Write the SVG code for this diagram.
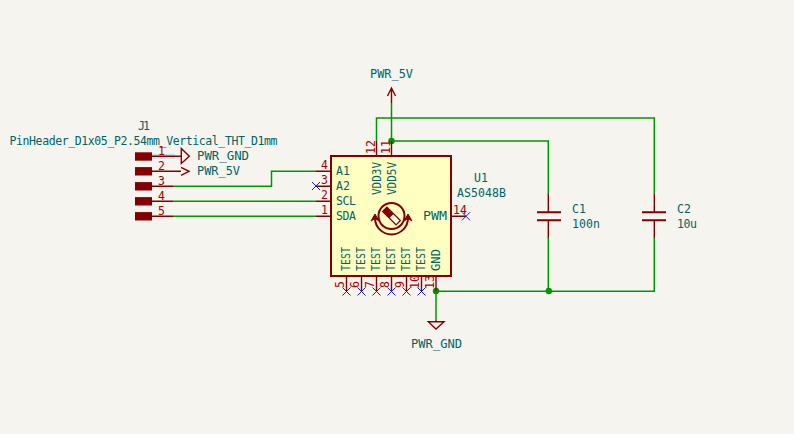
<svg xmlns="http://www.w3.org/2000/svg" width="794" height="434" viewBox="0 0 794 434">
<style>
.w{fill:none;stroke:#009600;stroke-width:1.5}
.p{fill:none;stroke:#840000;stroke-width:1.4}
.b{fill:none;stroke:#840000;stroke-width:2}
.t{font-family:"DejaVu Sans Mono","Liberation Mono",monospace;font-size:11.5px;fill:#006464}
.n{font-family:"DejaVu Sans Mono","Liberation Mono",monospace;font-size:11.5px;fill:#a90000}
.x{fill:none;stroke:#1c1cc0;stroke-width:1}
.j{fill:#009600}
</style>
<rect width="794" height="434" fill="#f5f4ef"/>
<g id="connectors">
<path class="w" d="M173 186.300H271.500V171.300H316M173 201.300H316M173 216.300H316"/>
<path class="w" d="M391.500 103V141H548.300V194M548.300 238V291.300M376.500 141V118H654.300V194M654.300 238V291.300H436V320"/>
<circle class="j" cx="391.500" cy="141" r="3.200"/>
<circle class="j" cx="548.800" cy="291" r="3.200"/>
<circle class="j" cx="436" cy="291" r="3.200"/>
</g>
<g id="J1">
<path d="M152 156.300H175" stroke="#bfe4f2" stroke-width="5" fill="none"/>
<rect x="135" y="152.300" width="17" height="8.400" fill="#840000"/>
<rect x="135" y="167.100" width="17" height="8.400" fill="#840000"/>
<rect x="135" y="182.100" width="17" height="8.400" fill="#840000"/>
<rect x="135" y="197.100" width="17" height="8.400" fill="#840000"/>
<rect x="135" y="212.100" width="17" height="8.400" fill="#840000"/>
<path class="p" d="M152 156.300H181M152 171.300H181M152 186.300H173M152 201.300H173M152 216.300H173"/>
<text class="t" x="138" y="130" textLength="12">J1</text>
<text class="t" x="9.500" y="145" textLength="268">PinHeader_D1x05_P2.54mm_Vertical_THT_D1mm</text>
<text class="n" x="158" y="155">1</text>
<text class="n" x="158" y="170">2</text>
<text class="n" x="158" y="185">3</text>
<text class="n" x="158" y="200">4</text>
<text class="n" x="158" y="215">5</text>
</g>
<g id="PWR_GND_J1">
<path class="p" d="M181.300 148.500V163.500L189.300 156.300Z"/>
<text class="t" x="197" y="160" textLength="52" lengthAdjust="spacingAndGlyphs">PWR_GND</text>
</g>
<g id="PWR_5V_J1">
<path class="p" d="M181 167.300L189 171.300L181 175.300"/>
<text class="t" x="197" y="175" textLength="43" lengthAdjust="spacingAndGlyphs">PWR_5V</text>
</g>
<g id="PWR_5V_top">
<path class="p" d="M391.500 103V88M387.500 96L391.500 88L395.500 96"/>
<text class="t" x="370" y="77.500" textLength="43" lengthAdjust="spacingAndGlyphs">PWR_5V</text>
</g>
<g id="PWR_GND_bottom">
<path class="p" d="M436 320V321.700M428.300 321.700H444L436 329Z"/>
<text class="t" x="411" y="347.500" textLength="51" lengthAdjust="spacingAndGlyphs">PWR_GND</text>
</g>
<g id="U1">
<rect x="331" y="156" width="120" height="120" fill="#ffffc2" stroke="#840000" stroke-width="2"/>
<path class="p" d="M316 171.300H331M316 186.300H331M316 201.300H331M316 216.300H331M451 216.300H466M376.500 141V156M391.500 141V156M346.500 276V291M361.500 276V291M376.500 276V291M391.500 276V291M406.500 276V291M421.500 276V291M436 276V291"/>
<text class="t" x="336" y="175" textLength="14">A1</text>
<text class="t" x="336" y="190" textLength="14">A2</text>
<text class="t" x="336" y="205" textLength="20">SCL</text>
<text class="t" x="336" y="220" textLength="20">SDA</text>
<text class="t" x="423" y="220" textLength="24" lengthAdjust="spacingAndGlyphs">PWM</text>
<text class="n" x="321" y="169">4</text>
<text class="n" x="321" y="184">3</text>
<text class="n" x="321" y="199">2</text>
<text class="n" x="321" y="214">1</text>
<text class="n" x="453" y="214" textLength="14">14</text>
<text class="t" transform="translate(380.500 195) rotate(-90)" textLength="33" lengthAdjust="spacingAndGlyphs">VDD3V</text>
<text class="t" transform="translate(395.500 195) rotate(-90)" textLength="33" lengthAdjust="spacingAndGlyphs">VDD5V</text>
<text class="t" transform="translate(350 271) rotate(-90)" textLength="24" lengthAdjust="spacingAndGlyphs">TEST</text>
<text class="t" transform="translate(365 271) rotate(-90)" textLength="24" lengthAdjust="spacingAndGlyphs">TEST</text>
<text class="t" transform="translate(380 271) rotate(-90)" textLength="24" lengthAdjust="spacingAndGlyphs">TEST</text>
<text class="t" transform="translate(395 271) rotate(-90)" textLength="24" lengthAdjust="spacingAndGlyphs">TEST</text>
<text class="t" transform="translate(410 271) rotate(-90)" textLength="24" lengthAdjust="spacingAndGlyphs">TEST</text>
<text class="t" transform="translate(425 271) rotate(-90)" textLength="24" lengthAdjust="spacingAndGlyphs">TEST</text>
<text class="t" transform="translate(440 271) rotate(-90)" textLength="22" lengthAdjust="spacingAndGlyphs">GND</text>
<text class="n" transform="translate(375 154) rotate(-90)" textLength="14">12</text>
<text class="n" transform="translate(390 154) rotate(-90)" textLength="14">11</text>
<text class="n" transform="translate(344 288) rotate(-90)">5</text>
<text class="n" transform="translate(359 288) rotate(-90)">6</text>
<text class="n" transform="translate(374 288) rotate(-90)">7</text>
<text class="n" transform="translate(389 288) rotate(-90)">8</text>
<text class="n" transform="translate(404 288) rotate(-90)">9</text>
<text class="n" transform="translate(419 289) rotate(-90)" textLength="14">10</text>
<text class="n" transform="translate(434 289) rotate(-90)" textLength="14">13</text>
<text class="t" x="474" y="181.500" textLength="14">U1</text>
<text class="t" x="457" y="197" textLength="49">AS5048B</text>
<circle class="b" cx="391.500" cy="216" r="13"/>
<path class="b" d="M375 218A16.500 16.500 0 0 0 408 218"/>
<path d="M371 221L375 214L379 221L375 218.500ZM404 221L408 214L412 221L408 218.500Z" fill="#840000" stroke="#840000"/>
<g transform="rotate(45 391.500 216)">
<rect x="382" y="213" width="19" height="6" fill="#fffff0" stroke="#840000" stroke-width="1.300"/>
<rect x="382" y="213" width="9.500" height="6" fill="#840000"/>
</g>
<path class="x" d="M312 182L320 190M312 190L320 182M462 212.300L470 220.300M462 220.300L470 212.300M342.500 287.500L350.500 295.500M342.500 295.500L350.500 287.500M357.500 287.500L365.500 295.500M357.500 295.500L365.500 287.500M372.500 287.500L380.500 295.500M372.500 295.500L380.500 287.500M387.500 287.500L395.500 295.500M387.500 295.500L395.500 287.500M402.500 287.500L410.500 295.500M402.500 295.500L410.500 287.500M417.500 287.500L425.500 295.500M417.500 295.500L425.500 287.500"/>
</g>
<g id="C1">
<path class="p" d="M548.300 194V212.300M548.300 220.300V238"/>
<path class="b" d="M537 212.300H561M537 220.300H561"/>
<text class="t" x="572" y="212.500" textLength="14">C1</text>
<text class="t" x="572" y="228" textLength="28">100n</text>
</g>
<g id="C2">
<path class="p" d="M654.300 194V212.300M654.300 220.300V238"/>
<path class="b" d="M642 212.300H666M642 220.300H666"/>
<text class="t" x="677" y="212.500" textLength="14">C2</text>
<text class="t" x="677" y="228" textLength="20">10u</text>
</g>
</svg>
